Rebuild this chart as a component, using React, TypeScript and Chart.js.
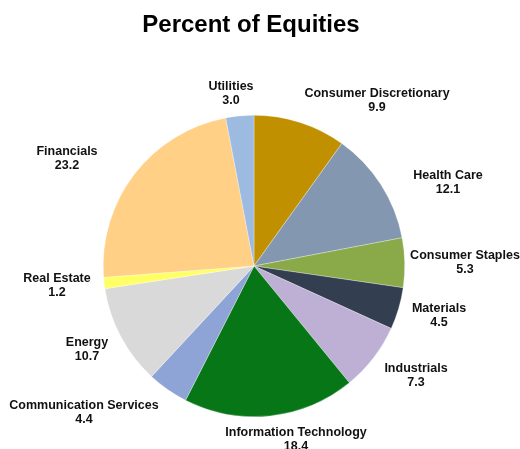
import React, { useEffect, useRef } from "react";
import { Chart, registerables } from "chart.js";

Chart.register(...registerables);

const TITLE = "Percent of Equities";
const sectors = [
  "Consumer Discretionary",
  "Health Care",
  "Consumer Staples",
  "Materials",
  "Industrials",
  "Information Technology",
  "Communication Services",
  "Energy",
  "Real Estate",
  "Financials",
  "Utilities",
];
const percents = [9.9, 12.1, 5.3, 4.5, 7.3, 18.4, 4.4, 10.7, 1.2, 23.2, 3.0];
const colors = [
  "#C09000",
  "#8497B0",
  "#8AAA4A",
  "#333F50",
  "#BEB0D4",
  "#077617",
  "#8FA4D6",
  "#D9D9D9",
  "#FFFF66",
  "#FFD085",
  "#9DBAE0",
];
// label centre offsets (first line) relative to pie centre — layout only
const labelOffsets: [number, number][] = [
  [123, -172],
  [194, -90],
  [211, -10],
  [185, 43],
  [162, 103],
  [42, 167],
  [-170, 140],
  [-167, 77],
  [-197, 13],
  [-187, -114],
  [-23, -179],
];

const labelPlugin = {
  id: "sliceLabels",
  afterDraw(chart: any) {
    const ctx = chart.ctx;
    const meta = chart.getDatasetMeta(0);
    ctx.save();
    ctx.fillStyle = "#000000";
    ctx.font = "bold 24px 'Liberation Sans', Arial, sans-serif";
    ctx.textAlign = "center";
    ctx.textBaseline = "middle";
    ctx.fillText(TITLE, 251, 25);
    ctx.fillStyle = "#111111";
    ctx.font = "bold 12.5px 'Liberation Sans', Arial, sans-serif";
    meta.data.forEach((arc: any, i: number) => {
      const cx = arc.x;
      const cy = arc.y;
      const [dx, dy] = labelOffsets[i];
      ctx.fillText(sectors[i], cx + dx, cy + dy);
      ctx.fillText(percents[i].toFixed(1), cx + dx, cy + dy + 14);
    });
    ctx.restore();
  },
};

export default function App() {
  const ref = useRef<HTMLCanvasElement | null>(null);
  useEffect(() => {
    if (!ref.current) return;
    const chart = new Chart(ref.current, {
      type: "pie",
      data: {
        labels: sectors,
        datasets: [
          {
            data: percents,
            backgroundColor: colors,
            borderWidth: 0.5,
            borderColor: "rgba(255,255,255,0.6)",
          },
        ],
      },
      options: {
        animation: false,
        responsive: false,
        maintainAspectRatio: false,
        layout: { padding: { left: 103, right: 115, top: 115, bottom: 32 } },
        plugins: {
          legend: { display: false },
          title: { display: false },
          tooltip: { enabled: false },
        },
      },
      plugins: [labelPlugin],
    });
    return () => chart.destroy();
  }, []);
  return (
    <div style={{ position: "fixed", left: 0, top: 0, width: 520, height: 449, background: "#fff" }}>
      <canvas ref={ref} width={520} height={449} style={{ width: 520, height: 449 }} />
    </div>
  );
}
